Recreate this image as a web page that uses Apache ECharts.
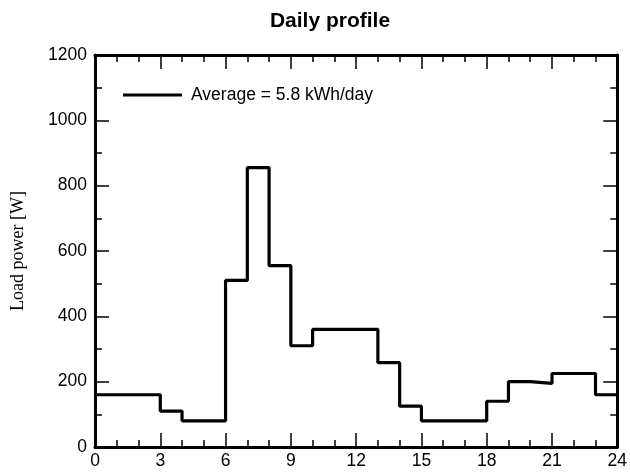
<!DOCTYPE html>
<html><head><meta charset="utf-8">
<script src="https://cdn.jsdelivr.net/npm/echarts@6/dist/echarts.min.js"></script>
<style>html,body{margin:0;padding:0;background:#fff}#c{width:630px;height:473px}</style>
</head><body><div id="c"></div>
<script>
// Hourly load power [W], hour 0..23
const hours = [0,1,2,3,4,5,6,7,8,9,10,11,12,13,14,15,16,17,18,19,20,21,22,23];
const loadW = [160,160,160,110,80,80,510,855,555,310,360,360,360,258,125,80,80,80,140,200,195,225,225,160];
const xTicks = [0,3,6,9,12,15,18,21,24];
const yTicks = [0,200,400,600,800,1000,1200];
const seriesName = 'Average = 5.8 kWh/day';

const data = hours.map((h,i)=>[h, loadW[i]]);
data.push([24, loadW[loadW.length-1]]);

const chart = echarts.init(document.getElementById('c'), null, {renderer:'canvas'});
const lab = {color:'#000', fontFamily:'Liberation Sans, Arial', fontSize:17.5};
const axLine = {show:true, onZero:false, lineStyle:{color:'#000', width:3}};
function xAx(pos, showLabel){
  return {type:'value', position:pos, min:0, max:24, interval:3,
    axisLine:axLine,
    axisTick:{show:true, inside:true, length:14, lineStyle:{color:'#000', width:1.5}},
    minorTick:{show:true, splitNumber:3, length:7, lineStyle:{color:'#000', width:1.5}},
    axisLabel:{show:showLabel, ...lab, margin:5, formatter:v=>xTicks.includes(v)?String(v):''},
    splitLine:{show:false}};
}
function yAx(pos, showLabel){
  return {type:'value', position:pos, min:0, max:1200, interval:200,
    axisLine:axLine,
    axisTick:{show:true, inside:true, length:14, lineStyle:{color:'#000', width:1.5}},
    minorTick:{show:true, splitNumber:2, length:7, lineStyle:{color:'#000', width:1.5}},
    axisLabel:{show:showLabel, ...lab, margin:8, formatter:v=>yTicks.includes(v)?String(v):''},
    splitLine:{show:false}};
}
const yMain = yAx('left', true);
yMain.name = 'Load power [W]';
yMain.nameLocation = 'middle';
yMain.nameGap = 68;
yMain.nameTextStyle = {color:'#000', fontFamily:'Liberation Serif, Times New Roman', fontSize:18};

chart.setOption({
  animation:false,
  backgroundColor:'#fff',
  title:{text:'Daily profile', left:325, top:6, textAlign:'center',
    textStyle:{color:'#000', fontFamily:'Liberation Sans, Arial', fontWeight:'bold', fontSize:21}},
  legend:{show:true, left:118, top:81, itemWidth:59, itemHeight:18, itemGap:10,
    data:[{name:seriesName, icon:'path://M0,8 L59,8 L59,11 L0,11 Z'}],
    textStyle:{color:'#000', fontFamily:'Liberation Sans, Arial', fontSize:17.5, padding:[0,0,0,4]}},
  grid:{left:95, right:7, top:55, bottom:26, containLabel:false},
  xAxis:[xAx('bottom', true), xAx('top', false)],
  yAxis:[yMain, yAx('right', false)],
  series:[{name:seriesName, type:'line', step:'end', data:data, symbol:'none',
    xAxisIndex:0, yAxisIndex:0,
    lineStyle:{color:'#000', width:3.2}, itemStyle:{color:'#000'}}]
});
</script></body></html>
